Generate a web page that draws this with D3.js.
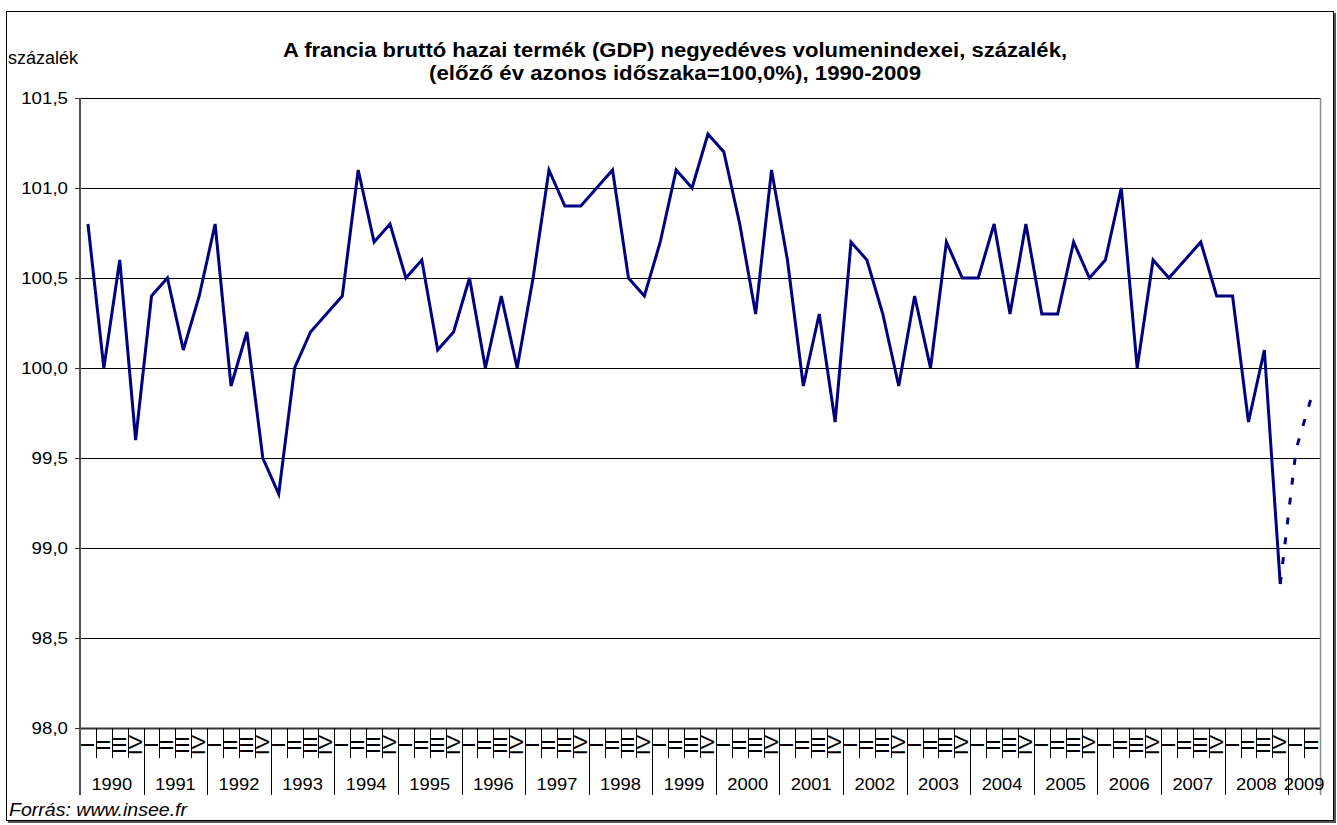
<!DOCTYPE html>
<html>
<head>
<meta charset="utf-8">
<script src="https://cdn.jsdelivr.net/npm/d3@7"></script>
<style>
  body { margin: 0; background: #fff; }
  svg { display: block; font-family: "Liberation Sans", Arial, sans-serif; }
</style>
</head>
<body>
<svg id="chart" width="1337" height="825"></svg>
<script>
// Year groups on the category axis (2009 only has two quarters)
const years = [1990, 1991, 1992, 1993, 1994, 1995, 1996, 1997, 1998, 1999,
               2000, 2001, 2002, 2003, 2004, 2005, 2006, 2007, 2008, 2009];
const quarterLabels = ["I", "II", "III", "IV"];
const quartersIn2009 = 2;

// Volume index, same quarter of previous year = 100,0 (1990 Q1 .. 2008 Q4)
const gdpIndex = [
  100.8, 100.0, 100.6, 99.6,
  100.4, 100.5, 100.1, 100.4,
  100.8, 99.9, 100.2, 99.5,
  99.3, 100.0, 100.2, 100.3,
  100.4, 101.1, 100.7, 100.8,
  100.5, 100.6, 100.1, 100.2,
  100.5, 100.0, 100.4, 100.0,
  100.5, 101.1, 100.9, 100.9,
  101.0, 101.1, 100.5, 100.4,
  100.7, 101.1, 101.0, 101.3,
  101.2, 100.8, 100.3, 101.1,
  100.6, 99.9, 100.3, 99.7,
  100.7, 100.6, 100.3, 99.9,
  100.4, 100.0, 100.7, 100.5,
  100.5, 100.8, 100.3, 100.8,
  100.3, 100.3, 100.7, 100.5,
  100.6, 101.0, 100.0, 100.6,
  100.5, 100.6, 100.7, 100.4,
  100.4, 99.7, 100.1, 98.8
];
// dotted continuation: 2008 Q4 .. 2009 Q2
const forecast = [98.8, 99.55, 99.85];

const yTicks = [98.0, 98.5, 99.0, 99.5, 100.0, 100.5, 101.0, 101.5];

// build the quarter list
const quarters = [];
years.forEach(y => {
  const n = y === 2009 ? quartersIn2009 : 4;
  for (let q = 0; q < n; q++) quarters.push({ year: y, q: q, key: y + "-" + q });
});

const svg = d3.select("#chart");
const plot = { left: 80, right: 1320, top: 98, bottom: 728 };

const x = d3.scaleBand()
  .domain(quarters.map(d => d.key))
  .range([plot.left, plot.right]);

const y = d3.scaleLinear()
  .domain([98, 101.5])
  .range([plot.bottom, plot.top]);

const fmt = v => d3.format(".1f")(v).replace(".", ",");

// outer frame with shadow
svg.append("rect")
  .attr("x", 8).attr("y", 13).attr("width", 1328).attr("height", 810)
  .attr("fill", "#555");
svg.append("rect")
  .attr("x", 6.5).attr("y", 11.5).attr("width", 1327).attr("height", 809)
  .attr("fill", "#fff").attr("stroke", "#000").attr("stroke-width", 1);

// gridlines
svg.append("g")
  .selectAll("line")
  .data(yTicks)
  .join("line")
    .attr("x1", plot.left).attr("x2", plot.right)
    .attr("y1", d => Math.round(y(d)) + 0.5)
    .attr("y2", d => Math.round(y(d)) + 0.5)
    .attr("stroke", d => d === 98 ? "#333" : "#000")
    .attr("stroke-width", d => d === 98 ? 2 : 1);

// plot area right border
svg.append("line")
  .attr("x1", plot.right + 0.5).attr("x2", plot.right + 0.5)
  .attr("y1", plot.top).attr("y2", 795)
  .attr("stroke", "#888").attr("stroke-width", 1.5);

// y axis
const yAxis = svg.append("g");
yAxis.append("line")
  .attr("x1", plot.left).attr("x2", plot.left)
  .attr("y1", plot.top).attr("y2", 795)
  .attr("stroke", "#555").attr("stroke-width", 2);
yAxis.selectAll("line.tick")
  .data(yTicks)
  .join("line")
    .attr("class", "tick")
    .attr("x1", plot.left - 5).attr("x2", plot.left)
    .attr("y1", d => Math.round(y(d)) + 0.5)
    .attr("y2", d => Math.round(y(d)) + 0.5)
    .attr("stroke", "#333");
yAxis.selectAll("text")
  .data(yTicks)
  .join("text")
    .attr("transform", d => `translate(68,${y(d) + 6}) scale(1.1,1)`)
    .attr("text-anchor", "end")
    .attr("font-size", 17)
    .text(fmt);

// x axis: quarter ticks and roman labels
const xAxis = svg.append("g");
xAxis.selectAll("line.q")
  .data(quarters.filter(d => d.q > 0))
  .join("line")
    .attr("class", "q")
    .attr("x1", d => Math.round(x(d.key)) + 0.5)
    .attr("x2", d => Math.round(x(d.key)) + 0.5)
    .attr("y1", plot.bottom).attr("y2", 758)
    .attr("stroke", "#000");
xAxis.selectAll("line.yr")
  .data(quarters.filter(d => d.q === 0 && d.year > 1990))
  .join("line")
    .attr("class", "yr")
    .attr("x1", d => Math.round(x(d.key)) + 0.5)
    .attr("x2", d => Math.round(x(d.key)) + 0.5)
    .attr("y1", plot.bottom).attr("y2", 795)
    .attr("stroke", "#000");
xAxis.selectAll("text.q")
  .data(quarters)
  .join("text")
    .attr("class", "q")
    .attr("transform", d => `translate(${x(d.key) + x.bandwidth() / 2 + 6},745) rotate(-90) scale(1.2,1)`)
    .attr("text-anchor", "middle")
    .attr("font-size", 18)
    .text(d => quarterLabels[d.q]);

// year labels centred under their quarters
const yearSpan = d3.rollups(quarters, v => [x(v[0].key), x(v[v.length - 1].key) + x.bandwidth()], d => d.year);
xAxis.selectAll("text.yr")
  .data(yearSpan)
  .join("text")
    .attr("class", "yr")
    .attr("transform", d => `translate(${(d[1][0] + d[1][1]) / 2},790) scale(1.08,1)`)
    .attr("text-anchor", "middle")
    .attr("font-size", 17)
    .text(d => d[0]);

// series
const cx = i => x(quarters[i].key) + x.bandwidth() / 2;
const line = d3.line()
  .x(d => cx(d.i))
  .y(d => y(d.v));

svg.append("path")
  .datum(gdpIndex.map((v, i) => ({ i, v })))
  .attr("d", line)
  .attr("fill", "none")
  .attr("stroke", "#000080")
  .attr("stroke-width", 3)
  .attr("stroke-linejoin", "miter");

svg.append("path")
  .datum(forecast.map((v, k) => ({ i: gdpIndex.length - 1 + k, v })))
  .attr("d", line)
  .attr("fill", "none")
  .attr("stroke", "#000080")
  .attr("stroke-width", 3)
  .attr("stroke-dasharray", "7,13");

// titles and notes
svg.append("text")
  .attr("x", 675).attr("y", 57)
  .attr("text-anchor", "middle")
  .attr("font-size", 20).attr("font-weight", "bold")
  .attr("textLength", 784).attr("lengthAdjust", "spacingAndGlyphs")
  .text("A francia bruttó hazai termék (GDP) negyedéves volumenindexei, százalék,");
svg.append("text")
  .attr("x", 675).attr("y", 80)
  .attr("text-anchor", "middle")
  .attr("font-size", 20).attr("font-weight", "bold")
  .attr("textLength", 492).attr("lengthAdjust", "spacingAndGlyphs")
  .text("(előző év azonos időszaka=100,0%), 1990-2009");

svg.append("text")
  .attr("x", 8).attr("y", 64)
  .attr("font-size", 18)
  .text("százalék");

svg.append("text")
  .attr("x", 9).attr("y", 816)
  .attr("font-size", 18).attr("font-style", "italic")
  .attr("textLength", 178).attr("lengthAdjust", "spacingAndGlyphs")
  .text("Forrás: www.insee.fr");
</script>
</body>
</html>
